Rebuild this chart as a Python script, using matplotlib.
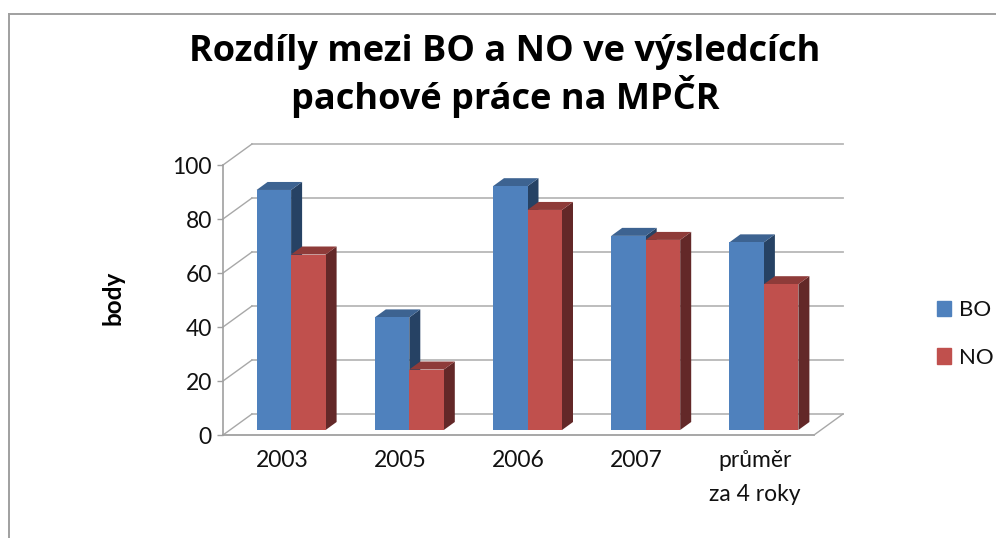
import matplotlib
matplotlib.use('Agg')
import matplotlib.pyplot as plt
from matplotlib.patches import Patch, Polygon
from matplotlib.lines import Line2D

plt.rcParams['font.family'] = ['Lato', 'DejaVu Sans']

categories = ['2003', '2005', '2006', '2007', 'průměr\nza 4 roky']
bo = [88.9, 41.7, 90.3, 71.9, 69.5]
no = [65.0, 22.4, 81.5, 70.4, 54.0]
yticks = [0, 20, 40, 60, 80, 100]

W, H = 996, 538
fig = plt.figure(figsize=(W / 100, H / 100), dpi=100)

# ramecek grafu
for xs, ys in [([9, 9], [H, 14]), ([9, W], [14, 14])]:
    fig.add_artist(Line2D([x / W for x in xs], [1 - y / H for y in ys], color='#A0A0A0', lw=1.4))

# osa: predni hrana 223-814 px, nula na 435 px, 2.7 px na bod
left, right, bottom, top = 223, 843, 435, 144
ax = fig.add_axes([left / W, 1 - bottom / H, (right - left) / W, (bottom - top) / H])
px_x = 1 / 118.2
px_y = 1 / 2.7
ax.set_xlim(-0.5, -0.5 + (right - left) * px_x)
ax.set_ylim(0, (bottom - top) * px_y)
for s in ax.spines.values():
    s.set_visible(False)

# hloubka steny a sloupcu
wall_dx, wall_dy = 29 * px_x, 21 * px_y
bar_dx, bar_dy = 11 * px_x, 8 * px_y
x_end = 4.5
grid_col = '#B8B8B8'
for t in yticks:
    ax.plot([-0.5 + wall_dx, x_end + wall_dx], [t + wall_dy, t + wall_dy], color=grid_col, lw=1.3, zorder=1, clip_on=False)
    ax.plot([-0.5, -0.5 + wall_dx], [t, t + wall_dy], color='#A8A8A8', lw=1.0, zorder=1, clip_on=False)
ax.plot([-0.5, -0.5], [0, 100], color='#A0A0A0', lw=1.2, zorder=2, clip_on=False)
ax.plot([-0.5, x_end], [0, 0], color='#A0A0A0', lw=1.3, zorder=2, clip_on=False)
ax.plot([x_end, x_end + wall_dx], [0, wall_dy], color='#A8A8A8', lw=1.0, zorder=2, clip_on=False)

bar_w = 34.5 * px_x
off = 9.0 * px_x
base = 5 * px_y


def bar3d(x, v, face, top_col, side_col, z):
    ax.bar(x, v, bar_w, bottom=base, align='edge', color=face, zorder=z + 0.2)
    h = base + v
    ax.add_patch(Polygon([(x, h), (x + bar_dx, h + bar_dy), (x + bar_w + bar_dx, h + bar_dy), (x + bar_w, h)],
                         color=top_col, lw=0, zorder=z + 0.1))
    ax.add_patch(Polygon([(x + bar_w, base), (x + bar_w + bar_dx, base + bar_dy), (x + bar_w + bar_dx, h + bar_dy), (x + bar_w, h)],
                         color=side_col, lw=0, zorder=z))


for i in range(len(categories)):
    x0 = i + off - bar_w
    bar3d(x0, bo[i], '#4F81BD', '#3D6391', '#264264', 3)
    bar3d(x0 + bar_w, no[i], '#C0504D', '#8E3B39', '#632828', 4)

ax.set_xticks(range(len(categories)))
ax.set_xticklabels(categories, fontsize=16.5, linespacing=1.75, color='#111111')
ax.set_yticks(yticks)
ax.tick_params(axis='x', length=0, pad=11)
ax.tick_params(axis='y', length=4, width=1, color='#A0A0A0', pad=4, labelsize=16.5, labelcolor='#111111')

fig.text(113 / W, 1 - 298 / H, 'body', rotation=90, ha='center', va='center', fontsize=17.5, fontweight='bold', color='black')
fig.text(505 / W, 1 - 76 / H, 'Rozdíly mezi BO a NO ve výsledcích\npachové práce na MPČR', ha='center', va='center',
         fontsize=26, fontweight='bold', family='Open Sans', linespacing=1.17, color='black')

handles = [Patch(color='#4F81BD', label='BO'), Patch(color='#C0504D', label='NO')]
fig.legend(handles=handles, loc='center left', bbox_to_anchor=(937 / W, 1 - 334 / H), frameon=False,
           fontsize=16, handlelength=0.63, handleheight=0.68, handletextpad=0.36, labelspacing=1.25,
           borderaxespad=0, borderpad=0, labelcolor='#111111')

fig.savefig('out.png', dpi=100)
